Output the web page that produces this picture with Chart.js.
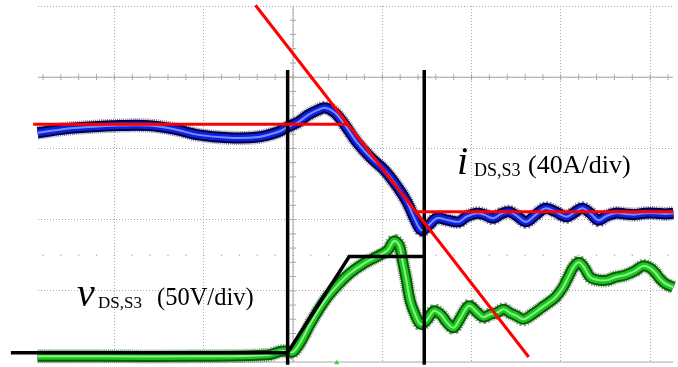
<!DOCTYPE html>
<html><head><meta charset="utf-8">
<script src="https://cdn.jsdelivr.net/npm/chart.js@4.4.0/dist/chart.umd.min.js"></script>
<style>html,body{margin:0;padding:0;background:#fff;overflow:hidden}canvas{display:block}</style>
</head><body>
<canvas id="c" width="678" height="367"></canvas>
<script>
// Axes in scope divisions (x: time div, y: vertical div)
const xGridTicks = [-2, -1, 0, 1, 2, 3, 4];
const yGridTicks = [0, 1, 2, 3, 4, 5];
const xRange = [-2.856, 4.256];
const yRange = [0, 5];

// i_DS,S3 trace (blue)
const currentTime = [-2.86,-2.58,-2.28,-1.94,-1.61,-1.33,-1.06,-0.72,-0.39,-0.17,-0.06,0.06,0.17,0.28,0.36,0.47,0.58,0.72,0.87,1.02,1.17,1.28,1.37,1.44,1.52,1.61,1.74,1.86,1.94,2.06,2.14,2.24,2.33,2.42,2.51,2.61,2.72,2.83,2.94,3.06,3.14,3.24,3.33,3.42,3.51,3.61,3.72,3.83,3.94,4.06,4.17,4.26];
const currentValue = [3.22,3.27,3.30,3.32,3.32,3.27,3.19,3.15,3.16,3.23,3.30,3.37,3.47,3.54,3.57,3.50,3.33,3.08,2.87,2.70,2.46,2.24,1.99,1.85,1.92,2.02,1.99,1.97,2.04,2.09,2.07,2.02,2.08,2.11,2.05,1.97,2.07,2.16,2.11,2.04,2.09,2.16,2.09,1.99,2.05,2.09,2.08,2.07,2.09,2.09,2.08,2.09];

// v_DS,S3 trace (green)
const voltageTime = [-2.86,-2.17,-1.06,-0.28,-0.14,-0.06,0,0.08,0.2,0.36,0.5,0.64,0.8,0.94,1.06,1.13,1.19,1.22,1.27,1.31,1.37,1.43,1.5,1.58,1.66,1.72,1.8,1.88,1.97,2.06,2.13,2.21,2.28,2.36,2.43,2.5,2.58,2.67,2.78,2.87,2.94,3.02,3.09,3.14,3.2,3.26,3.33,3.42,3.52,3.61,3.72,3.83,3.92,4.0,4.06,4.11,4.17,4.26];
const voltageValue = [0.08,0.08,0.08,0.10,0.15,0.15,0.14,0.27,0.55,0.87,1.08,1.25,1.39,1.48,1.57,1.70,1.64,1.46,1.15,0.87,0.66,0.53,0.59,0.72,0.66,0.56,0.48,0.63,0.79,0.70,0.63,0.67,0.69,0.74,0.69,0.65,0.60,0.66,0.76,0.84,0.91,1.04,1.21,1.33,1.40,1.33,1.19,1.15,1.15,1.19,1.22,1.28,1.35,1.32,1.25,1.17,1.10,1.05];

// Idealised voltage (black)
const idealVoltageTime = [-3.16, -0.06, 0.63, 1.47];
const idealVoltageValue = [0.13, 0.13, 1.48, 1.48];
const markerTime = [-0.06, 1.47];
const markerSpan = [-0.04, 4.10];

// Idealised current (red)
const redFlatBeforeTime = [-2.91, 0.61];
const redFlatBeforeValue = [3.34, 3.34];
const redSlopeTime = [-0.42, 2.64];
const redSlopeValue = [5.01, 0.07];
const redFlatAfterTime = [1.37, 4.26];
const redFlatAfterValue = [2.11, 2.11];

const triggerPoint = [{x: 0.49, y: -0.01}];

const zip = (xs, ys) => xs.map((x, i) => ({x, y: ys[i]}));

// minor ticks along centre axes (5 per division)
const minorX = [], minorY = [], dotRow = [];
for (let k = Math.ceil(xRange[0] * 5); k <= Math.floor(xRange[1] * 5); k++) {
  minorX.push({x: k / 5, y: 4});
  dotRow.push({x: k / 5, y: 1.5});
}
for (let k = 1; k < yRange[1] * 5; k++) minorY.push({x: 0, y: k / 5});

function line(data, color, width, order, extra) {
  return Object.assign({type: 'line', data, borderColor: color, borderWidth: width, pointRadius: 0,
    fill: false, tension: 0, order, clip: false}, extra || {});
}
const smooth = {tension: 0.35};
const fuzz = {tension: 0.35, borderDash: [1, 1], borderCapStyle: 'butt'};

const datasets = [
  // axes
  line([{x: xRange[0], y: 4}, {x: xRange[1], y: 4}], '#a8a8a8', 1, 90),
  line([{x: 0, y: 0}, {x: 0, y: 5}], '#a8a8a8', 1, 90),
  line([{x: xRange[0], y: 0}, {x: xRange[1], y: 0}], '#c8c8c8', 1.5, 90),
  {type: 'scatter', data: minorX, pointStyle: 'line', rotation: 90, radius: 3, borderColor: '#a8a8a8', borderWidth: 1, order: 90, clip: false},
  {type: 'scatter', data: minorY, pointStyle: 'line', rotation: 0, radius: 3, borderColor: '#a8a8a8', borderWidth: 1, order: 90, clip: false},
  {type: 'scatter', data: dotRow, pointStyle: 'circle', radius: 0.8, borderWidth: 0, backgroundColor: '#b0b0b0', order: 90, clip: false},
  // green voltage band
  line(zip(voltageTime, voltageValue), 'rgba(0,70,0,0.5)', 14, 41, fuzz),
  line(zip(voltageTime, voltageValue), '#0a5a0a', 11, 40, smooth),
  line(zip(voltageTime, voltageValue), '#18c818', 7, 39, smooth),
  line(zip(voltageTime, voltageValue), '#90f090', 2, 38, smooth),
  // blue current band
  line(zip(currentTime, currentValue), 'rgba(0,0,60,0.5)', 14, 31, fuzz),
  line(zip(currentTime, currentValue), '#00004a', 11, 30, smooth),
  line(zip(currentTime, currentValue), '#1020e0', 7, 29, smooth),
  line(zip(currentTime, currentValue), '#7890ff', 2, 28, smooth),
  // black idealised lines
  line(zip(idealVoltageTime, idealVoltageValue), '#000000', 3.5, 20),
  line([{x: markerTime[0], y: markerSpan[0]}, {x: markerTime[0], y: markerSpan[1]}], '#000000', 3.5, 20),
  line([{x: markerTime[1], y: markerSpan[0]}, {x: markerTime[1], y: markerSpan[1]}], '#000000', 3.5, 20),
  // red idealised lines
  line(zip(redFlatBeforeTime, redFlatBeforeValue), '#ff0000', 3, 10),
  line(zip(redSlopeTime, redSlopeValue), '#ff0000', 3, 10),
  line(zip(redFlatAfterTime, redFlatAfterValue), '#ff0000', 3, 10),
  {type: 'scatter', data: triggerPoint, pointStyle: 'triangle', radius: 3, borderWidth: 0, backgroundColor: '#30e030', order: 5, clip: false}
];

const labels = {
  id: 'labels',
  afterDraw(chart) {
    const ctx = chart.ctx;
    ctx.save();
    ctx.fillStyle = '#000';
    ctx.textBaseline = 'alphabetic';
    ctx.textAlign = 'left';
    const F = '"Liberation Serif","Times New Roman",serif';
    // i_DS,S3 (40A/div)
    ctx.font = 'italic 40px ' + F; ctx.fillText('i', 457, 174);
    ctx.font = '18px ' + F; ctx.fillText('DS,S3', 474, 176);
    ctx.font = '26px ' + F; ctx.fillText('(40A/div)', 528, 173);
    // v_DS,S3 (50V/div)
    ctx.font = 'italic 40px ' + F; ctx.fillText('v', 77, 306);
    ctx.font = '17px ' + F; ctx.fillText('DS,S3', 98, 308);
    ctx.font = '24.5px ' + F; ctx.fillText('(50V/div)', 157, 305);
    ctx.restore();
  }
};

new Chart(document.getElementById('c'), {
  data: {datasets},
  options: {
    responsive: false, animation: false, devicePixelRatio: 1,
    layout: {padding: {left: 38, top: 6, right: 0, bottom: 5}},
    plugins: {legend: {display: false}, tooltip: {enabled: false}},
    scales: {
      x: {type: 'linear', min: xRange[0], max: xRange[1],
        afterBuildTicks: s => { s.ticks = xGridTicks.map(v => ({value: v})); },
        ticks: {display: false}, border: {display: false, dash: [1, 2]},
        grid: {color: '#aaaaaa', lineWidth: 1, drawTicks: false}},
      y: {type: 'linear', min: yRange[0], max: yRange[1],
        afterBuildTicks: s => { s.ticks = yGridTicks.map(v => ({value: v})); },
        ticks: {display: false}, border: {display: false, dash: [1, 2]},
        grid: {color: '#aaaaaa', lineWidth: 1, drawTicks: false}}
    }
  },
  plugins: [labels]
});
</script>
</body></html>
